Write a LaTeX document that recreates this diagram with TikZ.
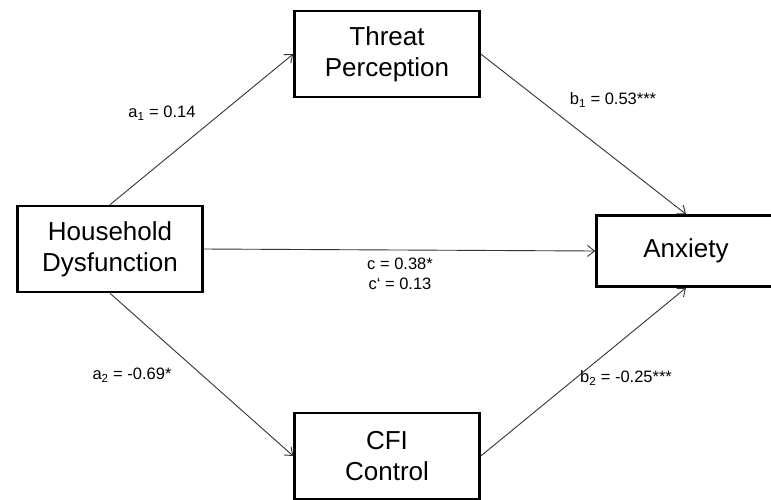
\documentclass[tikz,border=0pt]{standalone}
\usepackage{fontspec}
\setmainfont{Liberation Sans}
\usetikzlibrary{arrows.meta}
\tikzset{
    box/.style={draw, line width=2.6pt, align=center, inner sep=0pt,
        minimum width=185pt, minimum height=86pt,
        font=\fontsize{26}{31}\selectfont},
    path/.style={draw=black!80, line width=0.9pt,
        -{Straight Barb[length=7pt, width=11pt]}},
    coef/.style={font=\fontsize{16.5}{20}\selectfont, inner sep=1pt}
}
\begin{document}
\begin{tikzpicture}[x=1pt, y=-1pt]
    \useasboundingbox (0,0) rectangle (771,499);
    \clip (0,0) rectangle (771,499);
    \node[box] (hd) at (110,249) {Household\\Dysfunction};
    \node[box] (tp) at (387,54) {Threat\\Perception};
    \node[box] (cfi) at (387,456) {CFI\\Control};
    \node[box, minimum width=179pt, minimum height=71pt] (anx) at (686,251) {Anxiety};
    \draw[path] (hd.north) -- (tp.west);
    \draw[path] (hd.south) -- (cfi.west);
    \draw[path] (tp.east) -- (anx.north);
    \draw[path] (cfi.east) -- (anx.south);
    \draw[path] (hd.east) -- (anx.west);
    \node[coef] (a1) at (162,113) {a\textsubscript{1} = 0.14};
    \node[coef] (b1) at (613,100) {b\textsubscript{1} = 0.53***};
    \node[coef] (a2) at (132,375) {a\textsubscript{2} = -0.69*};
    \node[coef] (b2) at (626,378) {b\textsubscript{2} = -0.25***};
    \node[coef] (c) at (400,264) {c = 0.38*};
    \node[coef] (cp) at (400,284) {c‘ = 0.13};
\end{tikzpicture}
\end{document}
